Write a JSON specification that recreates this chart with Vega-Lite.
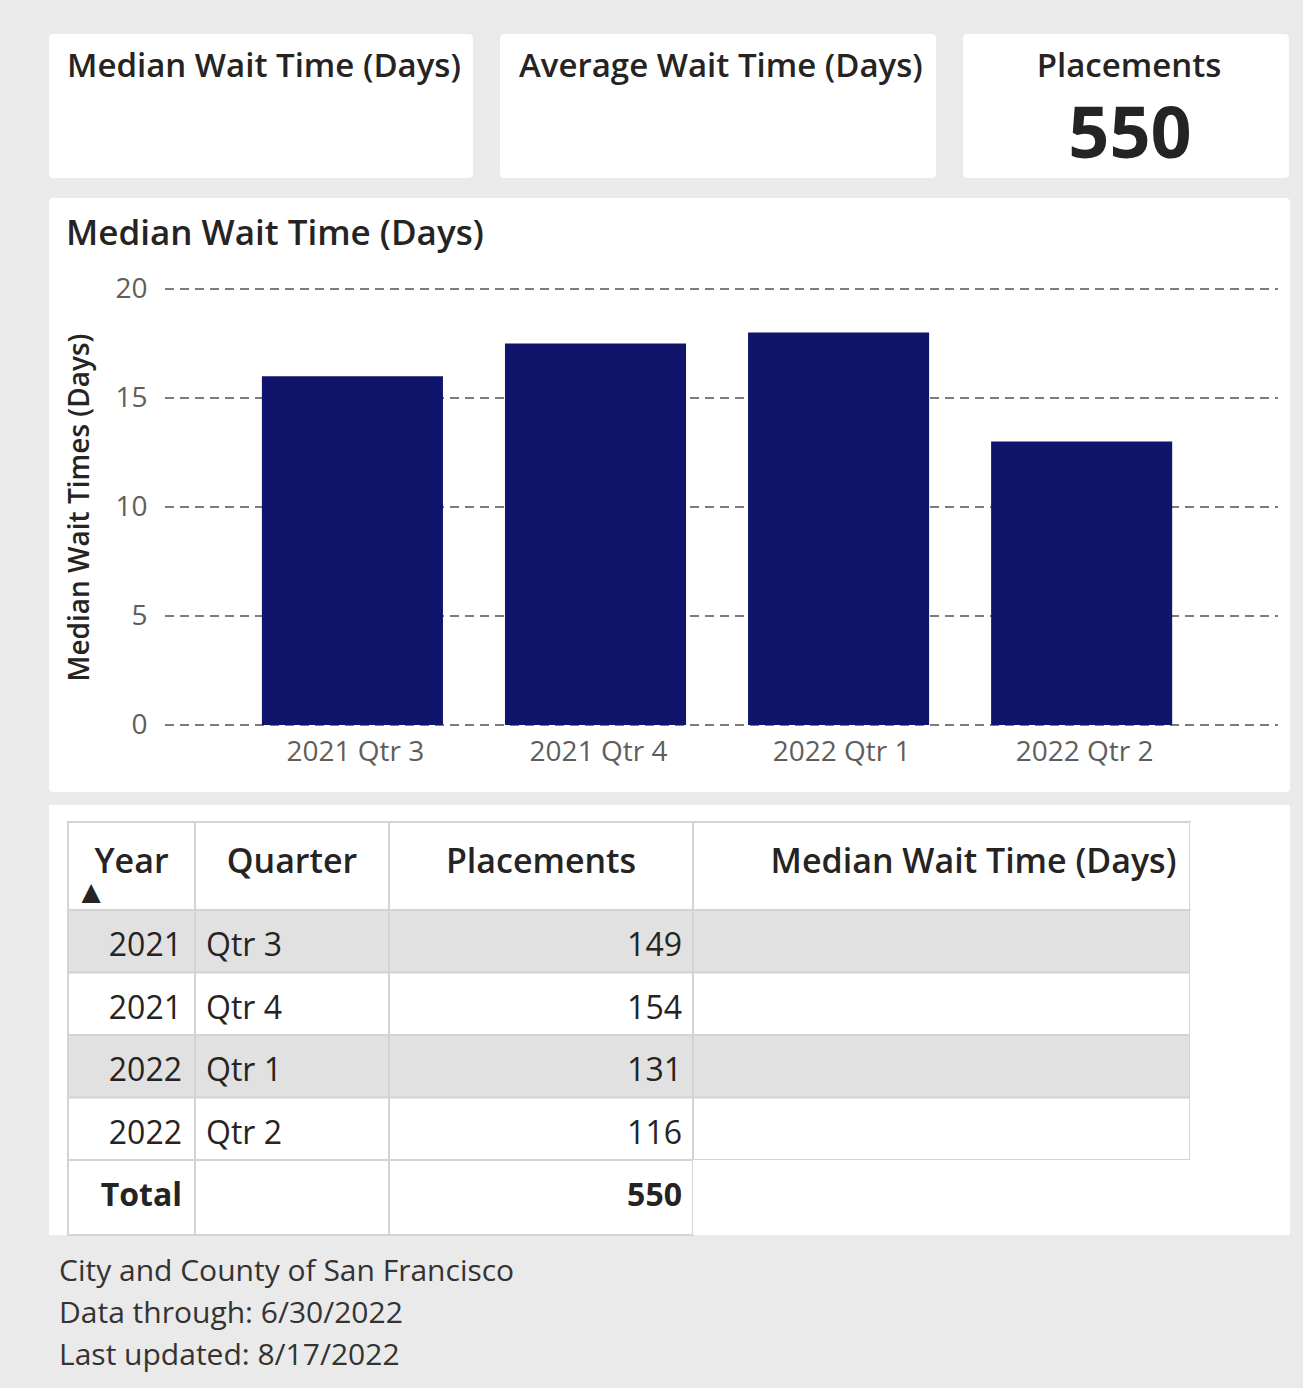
{
  "$schema": "https://vega.github.io/schema/vega-lite/v6.json",
  "background": "#eaeaea",
  "padding": {"left": 49, "top": 34, "right": 13, "bottom": 18},
  "config": {"font": "Open Sans", "view": {"stroke": null}},
  "datasets": {
    "quarters": [
      {"year": 2021, "quarter": "Qtr 3", "period": "2021 Qtr 3", "placements": 149, "median_wait": 16},
      {"year": 2021, "quarter": "Qtr 4", "period": "2021 Qtr 4", "placements": 154, "median_wait": 17.5},
      {"year": 2022, "quarter": "Qtr 1", "period": "2022 Qtr 1", "placements": 131, "median_wait": 18},
      {"year": 2022, "quarter": "Qtr 2", "period": "2022 Qtr 2", "placements": 116, "median_wait": 13}
    ],
    "kpi": [{"label": "Placements", "value": 550}],
    "total": [{"label": "Total", "placements": 550}],
    "grid": [{"v": 0}, {"v": 5}, {"v": 10}, {"v": 15}, {"v": 20}]
  },
  "title": {
    "text": ["City and County of San Francisco", "Data through: 6/30/2022", "Last updated: 8/17/2022"],
    "orient": "bottom", "anchor": "start", "fontSize": 30, "fontWeight": "normal", "color": "#333333",
    "lineHeight": 42, "offset": 21, "dx": 10, "baseline": "top"
  },
  "spacing": 20,
  "vconcat": [
    {
      "spacing": 27,
      "hconcat": [
        {
          "width": 424, "height": 144,
          "view": {"fill": "white", "stroke": null, "cornerRadius": 4},
          "data": {"values": [{"label": "Median Wait Time (Days)"}]},
          "mark": {"type": "text", "align": "left", "baseline": "alphabetic", "dx": -194, "dy": -29, "fontSize": 33, "fontWeight": 600, "color": "#252423"},
          "encoding": {"text": {"field": "label"}}
        },
        {
          "width": 436, "height": 144,
          "view": {"fill": "white", "stroke": null, "cornerRadius": 4},
          "data": {"values": [{"label": "Average Wait Time (Days)"}]},
          "mark": {"type": "text", "align": "left", "baseline": "alphabetic", "dx": -199, "dy": -29, "fontSize": 33, "fontWeight": 600, "color": "#252423"},
          "encoding": {"text": {"field": "label"}}
        },
        {
          "width": 326, "height": 144,
          "view": {"fill": "white", "stroke": null, "cornerRadius": 4},
          "data": {"name": "kpi"},
          "layer": [
            {
              "mark": {"type": "text", "align": "center", "baseline": "alphabetic", "dx": 3, "dy": -29, "fontSize": 33, "fontWeight": 600, "color": "#252423"},
              "encoding": {"text": {"field": "label"}}
            },
            {
              "mark": {"type": "text", "align": "center", "baseline": "alphabetic", "dx": 4, "dy": 52, "fontSize": 72, "fontWeight": "bold", "color": "#252423"},
              "encoding": {"text": {"field": "value", "type": "quantitative", "format": "d"}}
            }
          ]
        }
      ]
    },
    {
      "spacing": 13,
      "vconcat": [
        {
          "width": 1241, "height": 594,
          "view": {"fill": "white", "stroke": null, "cornerRadius": 4},
          "layer": [
            {
              "data": {"name": "grid"},
              "mark": {"type": "rule", "strokeDash": [9, 6], "color": "#7d7d7d", "strokeWidth": 2},
              "encoding": {
                "y": {
                  "field": "v", "type": "quantitative",
                  "scale": {"domain": [0, 20], "range": [527, 91]},
                  "axis": {"title": "Median Wait Times (Days)", "orient": "left", "offset": -110, "values": [0, 5, 10, 15, 20], "domain": false, "ticks": false, "grid": false, "labelPadding": 12, "labelFontSize": 28, "labelColor": "#605e5c", "titleFontSize": 28, "titleFontWeight": 600, "titleColor": "#252423", "titlePadding": 20}
                },
                "x": {"datum": 0, "type": "quantitative", "scale": {"domain": [0, 1], "range": [116, 1229]}, "axis": null},
                "x2": {"datum": 1}
              }
            },
            {
              "data": {"name": "quarters"},
              "mark": {"type": "bar", "color": "#10146b"},
              "encoding": {
                "x": {
                  "field": "period", "type": "nominal", "sort": null,
                  "scale": {"range": [116, 1229], "paddingInner": 0.2551, "paddingOuter": 0.417, "align": 0.478},
                  "axis": {"title": null, "orient": "bottom", "offset": -67, "domain": false, "ticks": false, "grid": false, "labelAngle": 0, "labelPadding": 13, "labelFontSize": 28, "labelColor": "#605e5c", "labelOffset": 3}
                },
                "y": {
                  "field": "median_wait", "type": "quantitative",
                  "axis": {"title": "Median Wait Times (Days)", "orient": "left", "offset": -110, "values": [0, 5, 10, 15, 20], "domain": false, "ticks": false, "grid": false, "labelPadding": 12, "labelFontSize": 28, "labelColor": "#605e5c", "titleFontSize": 28, "titleFontWeight": 600, "titleColor": "#252423", "titlePadding": 20}
                }
              }
            },
            {
              "data": {"values": [{"t": "Median Wait Time (Days)"}]},
              "mark": {"type": "text", "align": "left", "baseline": "alphabetic", "dx": -603.5, "dy": -250, "fontSize": 35, "fontWeight": 600, "color": "#252423"},
              "encoding": {"text": {"field": "t"}}
            }
          ],
          "resolve": {"scale": {"x": "independent"}}
        },
        {
          "columns": 6,
          "spacing": 0,
          "bounds": "flush",
          "concat": [
            {"width": 19, "height": 17, "view": {"fill": "white", "stroke": null}, "data": {"values": [{}]}, "mark": {"type": "rect", "opacity": 0}, "encoding": {}},
            {"width": 127, "height": 17, "view": {"fill": "white", "stroke": null}, "data": {"values": [{}]}, "mark": {"type": "rect", "opacity": 0}, "encoding": {}},
            {"width": 194, "height": 17, "view": {"fill": "white", "stroke": null}, "data": {"values": [{}]}, "mark": {"type": "rect", "opacity": 0}, "encoding": {}},
            {"width": 304, "height": 17, "view": {"fill": "white", "stroke": null}, "data": {"values": [{}]}, "mark": {"type": "rect", "opacity": 0}, "encoding": {}},
            {"width": 497, "height": 17, "view": {"fill": "white", "stroke": null}, "data": {"values": [{}]}, "mark": {"type": "rect", "opacity": 0}, "encoding": {}},
            {"width": 100, "height": 17, "view": {"fill": "white", "stroke": null}, "data": {"values": [{}]}, "mark": {"type": "rect", "opacity": 0}, "encoding": {}},

            {"width": 19, "height": 88, "view": {"fill": "white", "stroke": null}, "data": {"values": [{}]}, "mark": {"type": "rect", "opacity": 0}, "encoding": {}},
            {
              "width": 127, "height": 88,
              "view": {"fill": "white", "stroke": "#d4d4d4", "strokeWidth": 2},
              "data": {"values": [{"h": "Year", "arrow": "▲"}]},
              "layer": [
                {"mark": {"type": "text", "align": "center", "baseline": "alphabetic", "dy": 7, "fontSize": 34, "fontWeight": 600, "color": "#252423"}, "encoding": {"text": {"field": "h"}}},
                {"mark": {"type": "text", "align": "center", "baseline": "middle", "dx": -40.5, "dy": 26, "fontSize": 25, "font": "DejaVu Sans", "color": "#252423"}, "encoding": {"text": {"field": "arrow"}}}
              ]
            },
            {
              "width": 194, "height": 88,
              "view": {"fill": "white", "stroke": "#d4d4d4", "strokeWidth": 2},
              "data": {"values": [{"h": "Quarter"}]},
              "mark": {"type": "text", "align": "center", "baseline": "alphabetic", "dy": 7, "fontSize": 34, "fontWeight": 600, "color": "#252423"},
              "encoding": {"text": {"field": "h"}}
            },
            {
              "width": 304, "height": 88,
              "view": {"fill": "white", "stroke": "#d4d4d4", "strokeWidth": 2},
              "data": {"values": [{"h": "Placements"}]},
              "mark": {"type": "text", "align": "center", "baseline": "alphabetic", "dy": 7, "fontSize": 34, "fontWeight": 600, "color": "#252423"},
              "encoding": {"text": {"field": "h"}}
            },
            {
              "width": 497, "height": 88,
              "view": {"fill": "white", "stroke": "#d4d4d4", "strokeWidth": 2},
              "data": {"values": [{"h": "Median Wait Time (Days)"}]},
              "mark": {"type": "text", "align": "center", "baseline": "alphabetic", "dx": 32, "dy": 7, "fontSize": 34, "fontWeight": 600, "color": "#252423"},
              "encoding": {"text": {"field": "h"}}
            },
            {"width": 100, "height": 88, "view": {"fill": "white", "stroke": null}, "data": {"values": [{}]}, "mark": {"type": "rect", "opacity": 0}, "encoding": {}},

            {"width": 19, "height": 250, "view": {"fill": "white", "stroke": null}, "data": {"values": [{}]}, "mark": {"type": "rect", "opacity": 0}, "encoding": {}},
            {
              "width": 127, "height": 250,
              "view": {"fill": "white", "stroke": null},
              "data": {"name": "quarters"},
              "layer": [
                {
                  "mark": {"type": "rect", "stroke": "#d4d4d4", "strokeWidth": 2},
                  "encoding": {
                    "y": {"field": "period", "type": "nominal", "sort": null, "axis": null, "scale": {"paddingInner": 0, "paddingOuter": 0}},
                    "fill": {"field": "period", "type": "nominal", "sort": null, "legend": null, "scale": {"domain": ["2021 Qtr 3", "2021 Qtr 4", "2022 Qtr 1", "2022 Qtr 2"], "range": ["#e1e1e1", "#ffffff", "#e1e1e1", "#ffffff"]}}
                  }
                },
                {
                  "mark": {"type": "text", "align": "right", "baseline": "middle", "dx": 50.5, "dy": 5, "fontSize": 32, "color": "#252423"},
                  "encoding": {
                    "y": {"field": "period", "type": "nominal", "sort": null, "axis": null},
                    "text": {"field": "year", "type": "nominal"}
                  }
                }
              ]
            },
            {
              "width": 194, "height": 250,
              "view": {"fill": "white", "stroke": null},
              "data": {"name": "quarters"},
              "layer": [
                {
                  "mark": {"type": "rect", "stroke": "#d4d4d4", "strokeWidth": 2},
                  "encoding": {
                    "y": {"field": "period", "type": "nominal", "sort": null, "axis": null, "scale": {"paddingInner": 0, "paddingOuter": 0}},
                    "fill": {"field": "period", "type": "nominal", "sort": null, "legend": null, "scale": {"domain": ["2021 Qtr 3", "2021 Qtr 4", "2022 Qtr 1", "2022 Qtr 2"], "range": ["#e1e1e1", "#ffffff", "#e1e1e1", "#ffffff"]}}
                  }
                },
                {
                  "mark": {"type": "text", "align": "left", "baseline": "middle", "dx": -86, "dy": 5, "fontSize": 32, "color": "#252423"},
                  "encoding": {
                    "y": {"field": "period", "type": "nominal", "sort": null, "axis": null},
                    "text": {"field": "quarter", "type": "nominal"}
                  }
                }
              ]
            },
            {
              "width": 304, "height": 250,
              "view": {"fill": "white", "stroke": null},
              "data": {"name": "quarters"},
              "layer": [
                {
                  "mark": {"type": "rect", "stroke": "#d4d4d4", "strokeWidth": 2},
                  "encoding": {
                    "y": {"field": "period", "type": "nominal", "sort": null, "axis": null, "scale": {"paddingInner": 0, "paddingOuter": 0}},
                    "fill": {"field": "period", "type": "nominal", "sort": null, "legend": null, "scale": {"domain": ["2021 Qtr 3", "2021 Qtr 4", "2022 Qtr 1", "2022 Qtr 2"], "range": ["#e1e1e1", "#ffffff", "#e1e1e1", "#ffffff"]}}
                  }
                },
                {
                  "mark": {"type": "text", "align": "right", "baseline": "middle", "dx": 141, "dy": 5, "fontSize": 32, "color": "#252423"},
                  "encoding": {
                    "y": {"field": "period", "type": "nominal", "sort": null, "axis": null},
                    "text": {"field": "placements", "type": "quantitative", "format": "d"}
                  }
                }
              ]
            },
            {
              "width": 497, "height": 250,
              "view": {"fill": "white", "stroke": null},
              "data": {"name": "quarters"},
              "mark": {"type": "rect", "stroke": "#d4d4d4", "strokeWidth": 2},
              "encoding": {
                "y": {"field": "period", "type": "nominal", "sort": null, "axis": null, "scale": {"paddingInner": 0, "paddingOuter": 0}},
                "fill": {"field": "period", "type": "nominal", "sort": null, "legend": null, "scale": {"domain": ["2021 Qtr 3", "2021 Qtr 4", "2022 Qtr 1", "2022 Qtr 2"], "range": ["#e1e1e1", "#ffffff", "#e1e1e1", "#ffffff"]}}
              }
            },
            {"width": 100, "height": 250, "view": {"fill": "white", "stroke": null}, "data": {"values": [{}]}, "mark": {"type": "rect", "opacity": 0}, "encoding": {}},

            {"width": 19, "height": 75, "view": {"fill": "white", "stroke": null}, "data": {"values": [{}]}, "mark": {"type": "rect", "opacity": 0}, "encoding": {}},
            {
              "width": 127, "height": 75,
              "view": {"fill": "white", "stroke": "#d4d4d4", "strokeWidth": 2},
              "data": {"name": "total"},
              "mark": {"type": "text", "align": "right", "baseline": "middle", "dx": 50.5, "dy": -2, "fontSize": 32, "fontWeight": "bold", "color": "#252423"},
              "encoding": {"text": {"field": "label"}}
            },
            {"width": 194, "height": 75, "view": {"fill": "white", "stroke": "#d4d4d4", "strokeWidth": 2}, "data": {"values": [{}]}, "mark": {"type": "rect", "opacity": 0}, "encoding": {}},
            {
              "width": 304, "height": 75,
              "view": {"fill": "white", "stroke": "#d4d4d4", "strokeWidth": 2},
              "data": {"name": "total"},
              "mark": {"type": "text", "align": "right", "baseline": "middle", "dx": 141, "dy": -2, "fontSize": 32, "fontWeight": "bold", "color": "#252423"},
              "encoding": {"text": {"field": "placements", "type": "quantitative", "format": "d"}}
            },
            {"width": 497, "height": 75, "view": {"fill": "white", "stroke": null}, "data": {"values": [{}]}, "mark": {"type": "rect", "opacity": 0}, "encoding": {}},
            {"width": 100, "height": 75, "view": {"fill": "white", "stroke": null}, "data": {"values": [{}]}, "mark": {"type": "rect", "opacity": 0}, "encoding": {}}
          ]
        }
      ]
    }
  ]
}
